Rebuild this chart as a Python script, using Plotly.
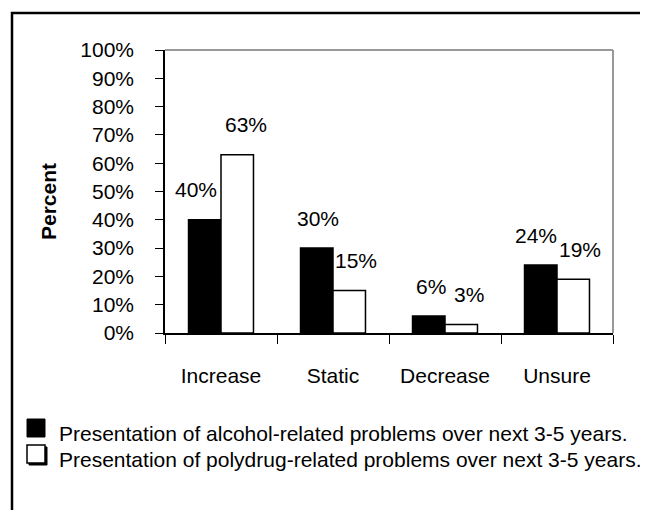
import plotly.graph_objects as go

categories = ["Increase", "Static", "Decrease", "Unsure"]
alcohol = [40, 30, 6, 24]
polydrug = [63, 15, 3, 19]
alcohol_labels = ["40%", "30%", "6%", "24%"]
polydrug_labels = ["63%", "15%", "3%", "19%"]
y_ticks = [0, 10, 20, 30, 40, 50, 60, 70, 80, 90, 100]
y_tick_labels = ["0%", "10%", "20%", "30%", "40%", "50%", "60%", "70%", "80%", "90%", "100%"]
legend_names = [
    "Presentation of alcohol-related problems over next 3-5 years.",
    "Presentation of polydrug-related problems over next 3-5 years.",
]

# label fine offsets (pixels, style only)
alc_dx = [-9, 1, 2, -5]
poly_dx = [9, 7, 8, 7]

OFF = 8  # page body margin
W, H = 648 - OFF, 510 - OFF
L, R, T, B = 165, 613, 50, 333  # plot area in window pixels
PW, PH = R - L, B - T
FONT = "Liberation Sans, Arial, sans-serif"
FS = 21


def px(x):
    return (x - L) / PW


def py(y):
    return (B - y) / PH


fig = go.Figure()
fig.add_trace(go.Bar(x=categories, y=alcohol, name=legend_names[0],
                     marker=dict(color="black", line=dict(color="black", width=1.5)),
                     showlegend=False))
fig.add_trace(go.Bar(x=categories, y=polydrug, name=legend_names[1],
                     marker=dict(color="white", line=dict(color="black", width=1.5)),
                     showlegend=False))

annotations = []
for i, c in enumerate(categories):
    annotations.append(dict(x=c, y=alcohol[i], text=alcohol_labels[i], showarrow=False,
                            xshift=-16 + alc_dx[i], yshift=30, yanchor="middle",
                            font=dict(family=FONT, size=FS, color="black")))
    annotations.append(dict(x=c, y=polydrug[i], text=polydrug_labels[i], showarrow=False,
                            xshift=16 + poly_dx[i], yshift=30, yanchor="middle",
                            font=dict(family=FONT, size=FS, color="black")))

# y axis title
annotations.append(dict(xref="paper", yref="paper", x=px(48), y=py(202), text="<b>Percent</b>",
                        textangle=-90, showarrow=False, xanchor="center", yanchor="middle",
                        font=dict(family=FONT, size=FS, color="black")))

# legend texts
for name, yc in zip(legend_names, [433, 459]):
    annotations.append(dict(xref="paper", yref="paper", x=px(57), y=py(yc), text=name,
                            showarrow=False, xanchor="left", yanchor="middle",
                            font=dict(family=FONT, size=FS, color="black")))

shapes = [
    # outer frame
    dict(type="rect", xref="paper", yref="paper", x0=px(12), x1=px(700), y0=py(560), y1=py(13),
         line=dict(color="black", width=2.5), fillcolor="rgba(0,0,0,0)", layer="below"),
    # plot area top and right in gray
    dict(type="line", xref="paper", yref="paper", x0=0, x1=1, y0=1, y1=1,
         line=dict(color="#999999", width=2)),
    dict(type="line", xref="paper", yref="paper", x0=1, x1=1, y0=0, y1=1,
         line=dict(color="#999999", width=2)),
    # legend key 1: black square
    dict(type="rect", xref="paper", yref="paper", x0=px(27), x1=px(45), y0=py(437), y1=py(419),
         line=dict(color="black", width=1), fillcolor="black"),
    # legend key 2: shadow + white square
    dict(type="rect", xref="paper", yref="paper", x0=px(29), x1=px(47), y0=py(465), y1=py(447),
         line=dict(color="black", width=1), fillcolor="black"),
    dict(type="rect", xref="paper", yref="paper", x0=px(27), x1=px(45), y0=py(463), y1=py(445),
         line=dict(color="black", width=1.5), fillcolor="white"),
]

fig.update_layout(
    width=W, height=H,
    margin=dict(l=L - OFF, r=648 - R, t=T - OFF, b=510 - B, pad=0),
    paper_bgcolor="white", plot_bgcolor="white",
    barmode="group", bargap=0.42, bargroupgap=0,
    font=dict(family=FONT, size=FS, color="black"),
    showlegend=False,
    annotations=annotations,
    shapes=shapes,
    xaxis=dict(type="category", range=[-0.5, 3.5], showline=True, linecolor="black", linewidth=1.5,
               ticks="outside", tickson="boundaries", ticklen=9, tickcolor="black", tickwidth=1,
               showgrid=False, zeroline=False, ticklabelstandoff=23,
               tickfont=dict(family=FONT, size=FS, color="black")),
    yaxis=dict(range=[0, 100], tickvals=y_ticks, ticktext=y_tick_labels, showline=True,
               linecolor="black", linewidth=1.5, ticks="outside", ticklen=8, tickcolor="black",
               tickwidth=1, showgrid=False, zeroline=False, ticklabelstandoff=17,
               tickfont=dict(family=FONT, size=FS, color="black")),
)

fig.write_html("out.html")
